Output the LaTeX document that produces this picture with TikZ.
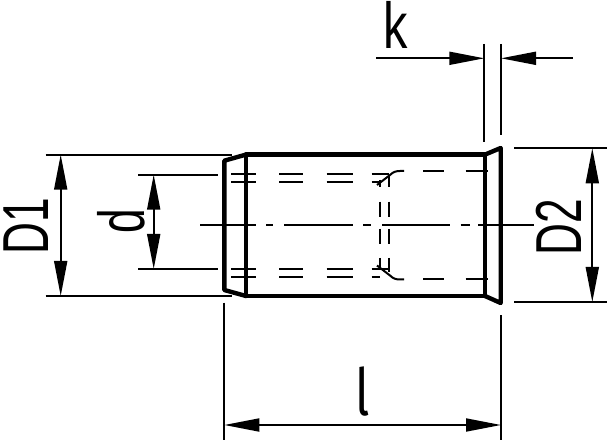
\documentclass[tikz,border=0pt]{standalone}
\usepackage{fontspec}
\setmainfont{Liberation Sans}
\newfontfamily\tailfont{Fira Sans}
\usetikzlibrary{arrows.meta}
\tikzset{
  thinline/.style={line width=2pt,black},
  thickline/.style={line width=4.4pt,black,line join=round,line cap=round},
  hidden/.style={line width=2pt,black},
  dimline/.style={line width=1.8pt,black,{Triangle[length=35pt,width=13pt,sep=0pt]}-{Triangle[length=35pt,width=13pt,sep=0pt]}},
  tipin/.style={line width=1.8pt,black,-{Triangle[length=35pt,width=13pt,sep=0pt]}},
  dimlabel/.style={inner sep=0pt,outer sep=0pt,font=\fontsize{65}{65}\selectfont}
}
\begin{document}
\begin{tikzpicture}[x=1pt,y=-1pt]
\useasboundingbox (0,0) rectangle (610,443);
% body corners
\coordinate (flTL) at (224.3,160.7);
\coordinate (flBL) at (224.3,290);
\coordinate (bTL) at (246,154.6);
\coordinate (bBL) at (246,296);
\coordinate (bTR) at (485,154.6);
\coordinate (bBR) at (485,296);
\coordinate (frT) at (500.7,148);
\coordinate (frB) at (500.7,303);
% extension lines
\draw[thinline] (45.7,154.7) -- (232,154.7);
\draw[thinline] (45.7,296) -- (232,296);
\draw[thinline] (138,174.7) -- (218,174.7);
\draw[thinline] (138,269) -- (218,269);
\draw[thinline] (484.3,44) -- (484.3,141.7);
\draw[thinline] (501,44) -- (501,135);
\draw[thinline] (514,148.3) -- (607,148.3);
\draw[thinline] (514,302) -- (607,302);
\draw[thinline] (224.3,302.7) -- (224.3,440);
\draw[thinline] (501,315.3) -- (501,440);
% centre line
\foreach \a/\b in {200/255.7,266/273,284/353,363/371,382/450,460.7/470,478/534}
  \draw[thinline] (\a,225.3) -- (\b,225.3);
% hidden threads
\foreach \a/\b in {231/255.7,279.3/303.3,326.7/353,371.7/389}{
  \draw[hidden] (\a,174.3) -- (\b,174.3);
  \draw[hidden] (\a,268.7) -- (\b,268.7);
}
\foreach \a/\b in {231/255.7,279.3/303.3,326.7/353,371.7/380}{
  \draw[hidden] (\a,182.3) -- (\b,182.3);
  \draw[hidden] (\a,276.7) -- (\b,276.7);
}
% hidden verticals
\foreach \a/\b in {201.7/216.7,229/244.3}{
  \draw[hidden] (380,\a) -- (380,\b);
  \draw[hidden] (389,\a) -- (389,\b);
}
\draw[hidden] (380,180) -- (380,187);
\draw[hidden] (389,175) -- (389,187);
\draw[hidden] (380,258) -- (380,268);
\draw[hidden] (389,258) -- (389,272);
% hidden bore with chamfer
\draw[hidden] (377,185) -- (390,175) .. controls (393,172) and (396,171) .. (400,171) -- (404,171);
\draw[hidden] (377,265.5) -- (390,275.5) .. controls (393,278.5) and (396,279.5) .. (400,279.5) -- (404,279.5);
\foreach \a/\b in {423/444,465.7/488}{
  \draw[hidden] (\a,171) -- (\b,171);
  \draw[hidden] (\a,279.5) -- (\b,279.5);
}
% outline
\draw[thickline] (bTL) -- (flTL) -- (flBL) -- (bBL);
\draw[thickline] (bTL) -- (bBL);
\draw[thickline] (bTL) -- (bTR);
\draw[thickline] (bBL) -- (bBR);
\draw[thickline] (bTR) -- (bBR);
\draw[thickline] (bTR) -- (frT) -- (frB) -- (bBR);
% dimensions
\draw[dimline] (60.7,154.7) -- (60.7,296);
\draw[dimline] (153.7,174.7) -- (153.7,269);
\draw[dimline] (592.3,148.3) -- (592.3,302);
\draw[dimline] (224.3,425) -- (501,425);
\draw[tipin] (376,58.3) -- (484.3,58.3);
\draw[tipin] (572.7,58.3) -- (501,58.3);
% labels
\node[dimlabel,rotate=90] (lblDone) at (26.5,226) {\scalebox{.68}[1]{D1}};
\node[dimlabel,rotate=90] (lbld) at (121,221) {\scalebox{.68}[1]{d}};
\node[dimlabel,rotate=90] (lblDtwo) at (559,227) {\scalebox{.68}[1]{D2}};
\node[dimlabel] (lblk) at (395.3,25) {\scalebox{.75}[1]{k}};
\node[dimlabel] (lbll) at (363,392) {\tailfont\scalebox{.75}[1]{l}};
\end{tikzpicture}
\end{document}
